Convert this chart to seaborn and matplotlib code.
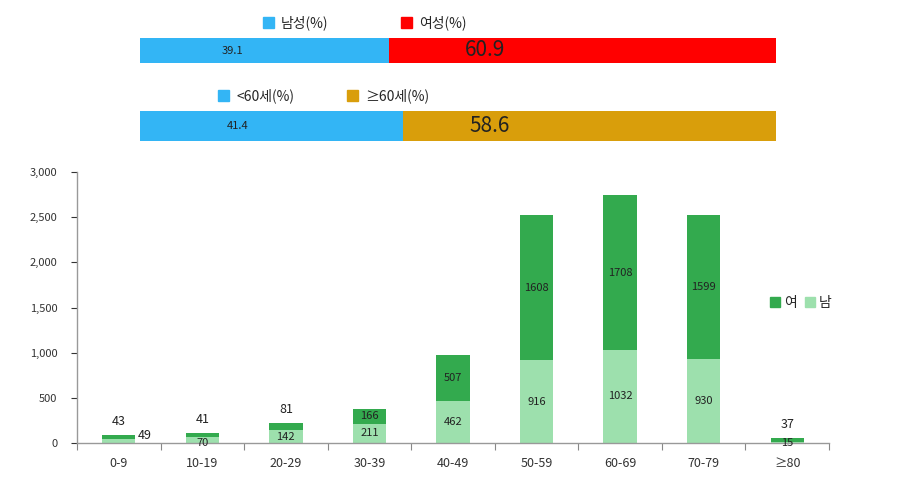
import numpy as np
import pandas as pd
import matplotlib
matplotlib.use('Agg')
import matplotlib.pyplot as plt
import seaborn as sns
from matplotlib.patches import Patch
from matplotlib.ticker import FuncFormatter

sns.set_style('white')
plt.rcParams['font.family'] = ['Noto Sans CJK KR', 'DejaVu Sans']

# data
age_groups = ['0-9', '10-19', '20-29', '30-39', '40-49', '50-59', '60-69', '70-79', '≥80']
male = [49, 70, 142, 211, 462, 916, 1032, 930, 15]
female = [43, 41, 81, 166, 507, 1608, 1708, 1599, 37]

sex_labels = ['남성(%)', '여성(%)']
sex_pct = [39.1, 60.9]
age_labels = ['<60세(%)', '≥60세(%)']
age_pct = [41.4, 58.6]

BLUE = '#33B5F5'
RED = '#FF0000'
GOLD = '#D99E0B'
DARK = '#33AA4E'
LIGHT = '#9DE0AD'

fig = plt.figure(figsize=(9, 4.9), dpi=100)


# ---- top percentage bars --------------------------------------------------
def pct_bar(rect, values, labels, colors, text_pos, sizes, leg_x, colspace):
    ax = fig.add_axes(rect)
    total = sum(values)
    sns.barplot(x=[total], y=['a'], color=colors[1], orient='h', width=1,
                saturation=1, linewidth=0, ax=ax)
    sns.barplot(x=[values[0]], y=['a'], color=colors[0], orient='h', width=1,
                saturation=1, linewidth=0, ax=ax)
    ax.set_xlim(0, total)
    ax.set_ylim(0.5, -0.5)
    ax.axis('off')
    for v, xp, fs in zip(values, text_pos, sizes):
        ax.text(xp, 0.5, f'{v}', transform=ax.transAxes, ha='center',
                va='center', fontsize=fs, color='#222222')
    handles = [Patch(color=c, label=l) for c, l in zip(colors, labels)]
    ax.legend(handles=handles, ncol=2, loc='lower left',
              bbox_to_anchor=(leg_x, 0.98), frameon=False, fontsize=10,
              handlelength=0.8, handleheight=0.8, handletextpad=0.5,
              columnspacing=colspace, borderpad=0.1)
    return ax


pct_bar([140 / 900, 1 - 63 / 490, 636 / 900, 25 / 490], sex_pct, sex_labels,
        [BLUE, RED], [0.146, 0.542], [8, 15], 0.18, 5.2)
pct_bar([140 / 900, 1 - 141 / 490, 636 / 900, 30 / 490], age_pct, age_labels,
        [BLUE, GOLD], [0.153, 0.55], [8, 15], 0.11, 3.8)

# ---- main stacked bar chart ----------------------------------------------
ax = fig.add_axes([77 / 900, 1 - 443 / 490, 752 / 900, 271 / 490])
df = pd.DataFrame({'age': age_groups, 'male': male, 'female': female})
df['total'] = df['male'] + df['female']

sns.barplot(data=df, x='age', y='total', color=DARK, saturation=1, width=0.4,
            linewidth=0, ax=ax)
sns.barplot(data=df, x='age', y='male', color=LIGHT, saturation=1, width=0.4,
            linewidth=0, ax=ax)

ax.set_xlim(-0.5, len(age_groups) - 0.5)
ax.set_ylim(0, 3000)
ax.set_xlabel('')
ax.set_ylabel('')
ax.set_yticks(np.arange(0, 3001, 500))
ax.yaxis.set_major_formatter(FuncFormatter(lambda v, p: f'{int(v):,}'))
ax.tick_params(axis='y', labelsize=8, colors='#333333', length=4, width=0.8,
               direction='out', left=True, pad=10)
ax.set_xticks(np.arange(len(age_groups)), labels=age_groups)
ax.tick_params(axis='x', which='major', length=0, labelsize=9, pad=10,
               colors='#333333')
ax.set_xticks(np.arange(-0.5, len(age_groups), 1), minor=True)
ax.tick_params(axis='x', which='minor', length=5, width=0.8, color='#888888',
               direction='out', bottom=True)
for s in ['top', 'right']:
    ax.spines[s].set_visible(False)
for s in ['left', 'bottom']:
    ax.spines[s].set_color('#999999')
    ax.spines[s].set_linewidth(1)

# value labels
for i, (m, f) in enumerate(zip(male, female)):
    t = m + f
    if f < 100:
        ax.annotate(f'{f}', (i, t), xytext=(0, 5), textcoords='offset points',
                    ha='center', va='bottom', fontsize=9, color='#222222')
    else:
        ax.text(i, m + f / 2, f'{f}', ha='center', va='center', fontsize=8,
                color='#222222')
    if i == 0:
        ax.annotate(f'{m}', (i + 0.31, 0), xytext=(0, 1), textcoords='offset points',
                    ha='center', va='bottom', fontsize=9, color='#222222')
    elif m < 100:
        ax.text(i, 0, f'{m}', ha='center', va='center', fontsize=8,
                color='#222222')
    else:
        ax.text(i, m / 2, f'{m}', ha='center', va='center', fontsize=8,
                color='#222222')

handles = [Patch(color=DARK, label='여'), Patch(color=LIGHT, label='남')]
ax.legend(handles=handles, ncol=2, loc='center left',
          bbox_to_anchor=(0.905, 0.517), frameon=False, fontsize=10,
          handlelength=0.7, handleheight=0.7, handletextpad=0.3,
          columnspacing=0.6)

fig.savefig('out.png', dpi=100)
